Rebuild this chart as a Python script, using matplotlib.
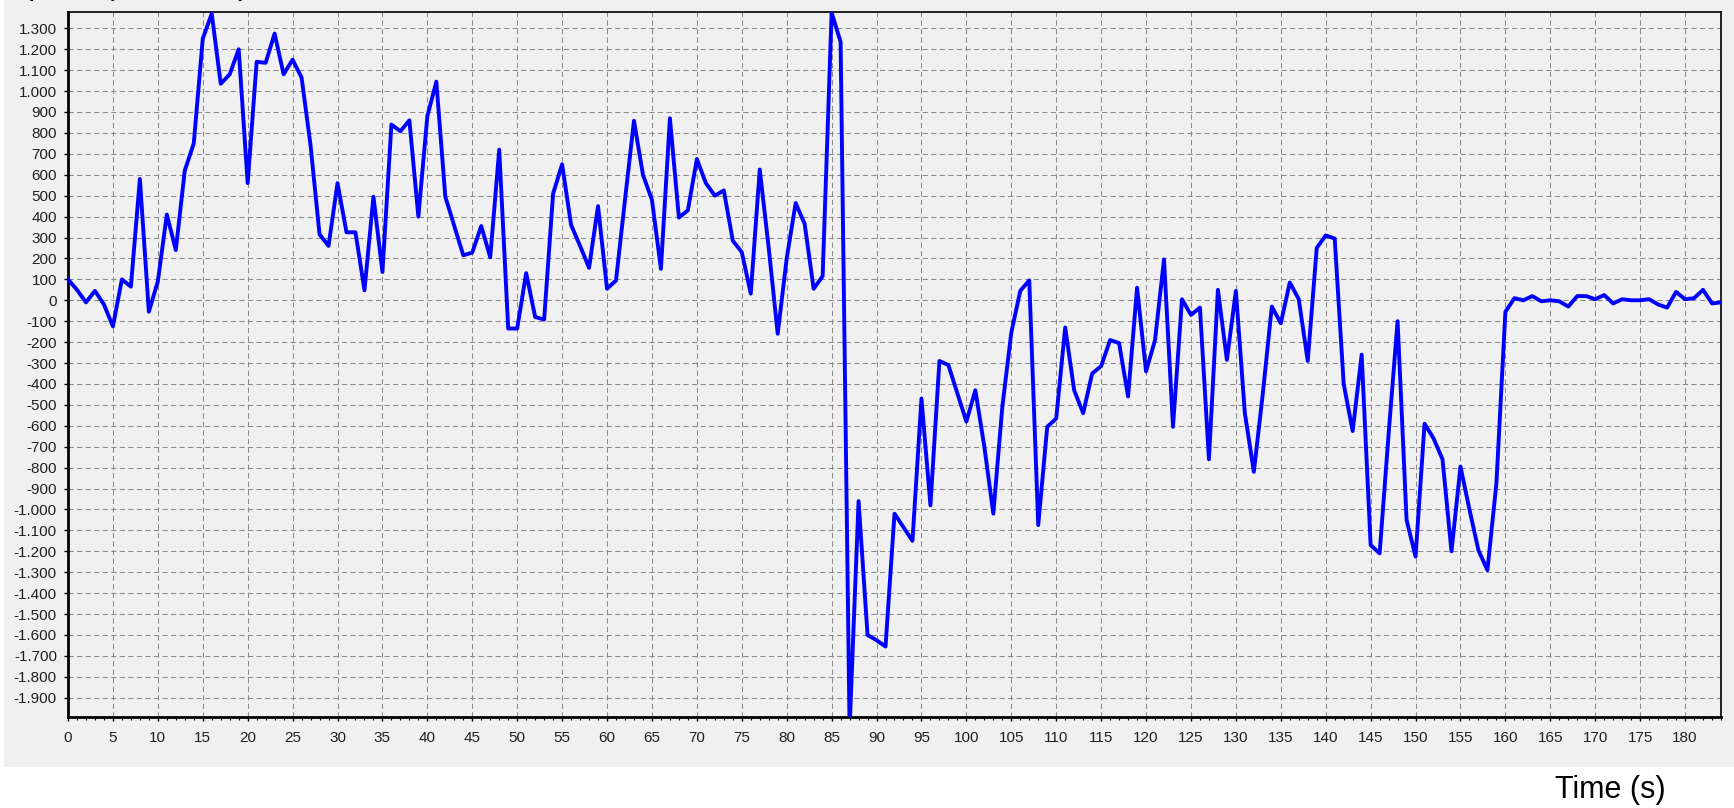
import numpy as np
from matplotlib import pyplot as plt
from matplotlib.ticker import MultipleLocator, FuncFormatter
from matplotlib.patches import Rectangle

plt.rcParams["font.family"] = ["Liberation Sans", "DejaVu Sans"]

# data (time in s, value per second)
time = list(range(0, 185))
value = [
    100, 50, -10, 45, -20, -125, 100, 65, 580, -55,          # 0-9
    90, 410, 240, 620, 750, 1250, 1370, 1035, 1080, 1200,    # 10-19
    560, 1140, 1135, 1275, 1080, 1150, 1065, 740, 315, 260,  # 20-29
    560, 325, 325, 48, 495, 135, 840, 808, 860, 400,         # 30-39
    880, 1045, 495, 355, 215, 228, 355, 205, 720, -135,      # 40-49
    -135, 130, -80, -92, 510, 650, 360, 260, 155, 450,       # 50-59
    55, 95, 480, 858, 600, 480, 150, 870, 395, 430,          # 60-69
    675, 560, 500, 525, 285, 230, 32, 625, 250, -160,        # 70-79
    200, 465, 365, 55, 115, 1375, 1235, -2050, -960, -1600,  # 80-89
    -1625, -1655, -1020, -1085, -1150, -470, -980, -290, -310, -445,  # 90-99
    -580, -430, -700, -1020, -510, -155, 45, 95, -1075, -605,        # 100-109
    -565, -130, -430, -540, -350, -315, -190, -205, -460, 60,        # 110-119
    -340, -190, 195, -605, 5, -70, -35, -760, 50, -285,              # 120-129
    45, -540, -820, -445, -30, -110, 85, 5, -290, 250,               # 130-139
    310, 295, -400, -625, -260, -1170, -1210, -640, -100, -1050,     # 140-149
    -1225, -590, -660, -760, -1200, -795, -1000, -1195, -1290, -875, # 150-159
    -55, 10, 0, 20, -5, 0, -5, -30, 20, 20,                          # 160-169
    5, 25, -15, 5, 0, 0, 5, -20, -35, 40,                            # 170-179
    5, 10, 50, -15, -10,                                             # 180-184
]

x_label = "Time (s)"
title = "Speed (rev/min/s)"

fig = plt.figure(figsize=(17.34, 8.08), dpi=100)
fig.patch.set_facecolor("white")
# grey window panel behind the plot
fig.patches.append(Rectangle((4 / 1734, 41 / 808), 1, 1, transform=fig.transFigure,
                             facecolor="#f0f0f0", edgecolor="none", zorder=-10))

ax = fig.add_axes([68 / 1734, 91 / 808, 1653 / 1734, 705 / 808])
ax.set_facecolor("#f0f0f0")
ax.plot(time, value, color="#0000ff", linewidth=2.8, zorder=3)

ax.set_xlim(0, 184)
ax.set_ylim(-1992, 1378)
ax.xaxis.set_major_locator(MultipleLocator(5))
ax.xaxis.set_minor_locator(MultipleLocator(1))
ax.yaxis.set_major_locator(MultipleLocator(100))
ax.yaxis.set_major_formatter(FuncFormatter(lambda v, p: f"{v:,.0f}".replace(",", ".")))

ax.grid(True, which="major", color="#8a8a8a", linestyle=(0, (5, 3.2)), linewidth=0.75)
ax.tick_params(axis="both", which="major", labelsize=11, labelcolor="#202020",
               direction="out", length=3, width=1)
ax.tick_params(axis="x", which="major", pad=7)
ax.tick_params(axis="x", which="minor", direction="out", length=2, width=0.8)
ax.tick_params(axis="y", which="major", pad=5)

for side in ["left", "bottom"]:
    ax.spines[side].set_linewidth(2.0)
for side in ["top", "right"]:
    ax.spines[side].set_linewidth(1.2)

fig.text(1610 / 1734, 1 - 798 / 808, x_label, fontsize=22, ha="center", va="baseline")
# title is cut off by the top edge in the original
fig.text(8 / 1734, 1 + 6 / 808, title, fontsize=22, ha="left", va="baseline")

plt.savefig("out.png", dpi=100)
